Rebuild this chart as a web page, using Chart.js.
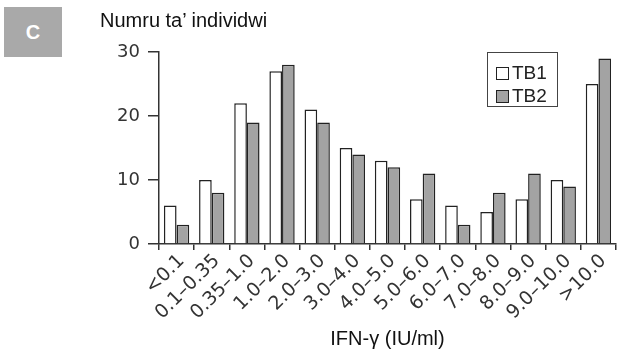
<!DOCTYPE html>
<html><head><meta charset="utf-8">
<script src="https://cdn.jsdelivr.net/npm/chart.js@4/dist/chart.umd.min.js"></script>
<style>
html,body{margin:0;padding:0;background:#fff;}
#wrap{position:relative;width:617px;height:355px;overflow:hidden;}
#c{position:absolute;left:0;top:0;}
#badge{position:absolute;left:4px;top:7px;width:58px;height:50px;background:#a9a9a9;color:#fff;font:bold 20px "Liberation Sans",Arial,sans-serif;display:flex;align-items:center;justify-content:center;}
#title{position:absolute;left:100px;top:8px;font:20px "Liberation Sans",Arial,sans-serif;color:#111;line-height:24px;}
#legend{position:absolute;left:487px;top:52px;width:71px;height:55px;border:1px solid #444;box-sizing:border-box;font:19px "Liberation Sans",sans-serif;color:#222;}
.li{position:absolute;left:8px;display:flex;align-items:center;line-height:20px;}
.sw{width:13px;height:13px;border:1.5px solid #222;margin-right:3px;box-sizing:border-box;}
</style></head>
<body><div id="wrap">
<canvas id="c" width="617" height="355"></canvas>
<div id="badge">C</div>
<div id="title">Numru ta’ individwi</div>
<div id="legend"></div>
</div>
<script>
const categories = ['<0.1','0.1–0.35','0.35–1.0','1.0–2.0','2.0–3.0','3.0–4.0','4.0–5.0','5.0–6.0','6.0–7.0','7.0–8.0','8.0–9.0','9.0–10.0','>10.0'];
const tb1 = [6,10,22,27,21,15,13,7,6,5,7,10,25];
const tb2 = [3,8,19,28,19,14,12,11,3,8,11,9,29];
const yTicks = [0,10,20,30];
const seriesNames = ['TB1','TB2'];
const fills = ['#ffffff','#a3a3a3'];

const axisColor = '#333';

const chart = new Chart(document.getElementById('c'), {
  type:'bar',
  data:{labels:categories, datasets:[
    {label:seriesNames[0], data:tb1, backgroundColor:fills[0], borderColor:'#222', borderWidth:1.5, borderSkipped:'bottom', categoryPercentage:0.72, barPercentage:1},
    {label:seriesNames[1], data:tb2, backgroundColor:fills[1], borderColor:'#222', borderWidth:1.5, borderSkipped:'bottom', categoryPercentage:0.72, barPercentage:1}
  ]},
  options:{
    responsive:false, animation:false,
    layout:{padding:{top:52,right:1,left:0,bottom:0}},
    plugins:{legend:{display:false}, tooltip:{enabled:false}},
    scales:{
      x:{
        offset:true,
        grid:{offset:true, drawOnChartArea:false, drawTicks:true, tickLength:6, color:axisColor, lineWidth:1.5},
        border:{display:true, color:axisColor, width:1.5},
        ticks:{color:'#333', font:{family:'DejaVu Sans', size:19}, minRotation:45, maxRotation:45, autoSkip:false, padding:0, labelOffset:5},
        title:{display:true, text:'IFN-γ (IU/ml)', color:'#111', font:{family:'Liberation Sans', size:20}, padding:{top:8}},
        afterFit:(s)=>{s.height=111;}
      },
      y:{
        min:0, max:30,
        afterBuildTicks:(s)=>{s.ticks=yTicks.map(v=>({value:v}));},
        grid:{drawOnChartArea:false, drawTicks:true, tickLength:11, color:axisColor, lineWidth:1.5},
        border:{display:true, color:axisColor, width:1.5},
        ticks:{color:'#333', font:{family:'DejaVu Sans', size:18}, padding:8},
        afterFit:(s)=>{s.width=159;}
      }
    }
  }
});

const lg = document.getElementById('legend');
seriesNames.forEach((n,i)=>{
  const d = document.createElement('div');
  d.className='li';
  d.style.top = (i===0?10:33)+'px';
  d.innerHTML = '<span class="sw" style="background:'+fills[i]+'"></span><span>'+n+'</span>';
  lg.appendChild(d);
});
</script>
</body></html>
